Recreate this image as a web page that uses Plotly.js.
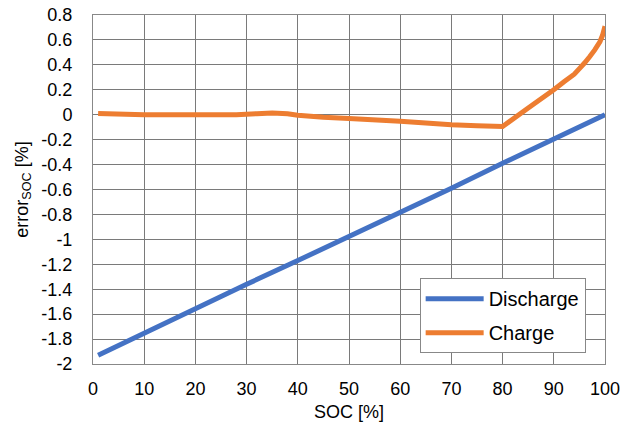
<!DOCTYPE html>
<html>
<head>
<meta charset="utf-8">
<script src="https://cdn.plot.ly/plotly-3.0.1.min.js"></script>
<style>html,body{margin:0;padding:0;background:#fff;}#chart{width:636px;height:427px;}</style>
</head>
<body>
<div id="chart"></div>
<script>
// Data
const dischargeSOC = [1, 10, 20, 30, 40, 50, 60, 70, 80, 90, 100];
const dischargeErr = [-1.93, -1.75, -1.55, -1.36, -1.17, -0.98, -0.78, -0.59, -0.39, -0.20, 0.00];

const chargeSOC = [1, 10, 20, 28, 32, 35, 38, 40, 45, 50, 60, 65, 70, 75, 80, 85, 90, 92, 94, 95, 96, 97, 98, 99, 99.5, 100];
const chargeErr = [0.01, 0.0, 0.0, 0.0, 0.008, 0.013, 0.008, -0.005, -0.02, -0.03, -0.053, -0.067, -0.08, -0.088, -0.095, 0.054, 0.20, 0.265, 0.325, 0.37, 0.415, 0.465, 0.52, 0.585, 0.635, 0.71];

const yTickVals = [0.8, 0.6, 0.4, 0.2, 0, -0.2, -0.4, -0.6, -0.8, -1, -1.2, -1.4, -1.6, -1.8, -2];
const yTickText = ["0.8", "0.6", "0.4", "0.2", "0", "-0.2", "-0.4", "-0.6", "-0.8", "-1", "-1.2", "-1.4", "-1.6", "-1.8", "-2"];
const xTickVals = [0, 10, 20, 30, 40, 50, 60, 70, 80, 90, 100];

const font = {family: "Liberation Sans, Arial, sans-serif", size: 18, color: "#000"};

const traces = [
  {x: dischargeSOC, y: dischargeErr, type: "scatter", mode: "lines", name: "Discharge",
   legendgroup: "a", line: {color: "#4472C4", width: 5}},
  {x: chargeSOC, y: chargeErr, type: "scatter", mode: "lines", name: "Charge",
   legendgroup: "b", line: {color: "#ED7D31", width: 5, simplify: false}}
];

const layout = {
  width: 636, height: 427,
  margin: {l: 93, r: 31, t: 15, b: 63},
  paper_bgcolor: "#fff", plot_bgcolor: "#fff",
  font: font,
  showlegend: true,
  legend: {x: 0.638, y: 0.246, xanchor: "left", yanchor: "top",
    bordercolor: "#888", borderwidth: 1, bgcolor: "#fff",
    font: {family: font.family, size: 20, color: "#000"},
    tracegroupgap: 5, traceorder: "grouped", itemwidth: 58},
  xaxis: {range: [0, 100], tickvals: xTickVals, showgrid: true, gridcolor: "#7a7a7a", gridwidth: 1,
    zeroline: false, showline: true, mirror: true, linecolor: "#888", linewidth: 1,
    ticks: "", tickfont: font, ticklabelstandoff: 8,
    title: {text: "SOC [%]", font: font, standoff: 7}},
  yaxis: {range: [-2, 0.8], tickvals: yTickVals, ticktext: yTickText, showgrid: true, gridcolor: "#7a7a7a", gridwidth: 1,
    zeroline: false, showline: true, mirror: true, linecolor: "#888", linewidth: 1,
    ticks: "", tickfont: font, ticklabelstandoff: 16,
    title: {text: "error<sub>SOC</sub> [%]", font: font, standoff: 8}}
};

Plotly.newPlot("chart", traces, layout, {displayModeBar: false, staticPlot: true});
</script>
</body>
</html>
